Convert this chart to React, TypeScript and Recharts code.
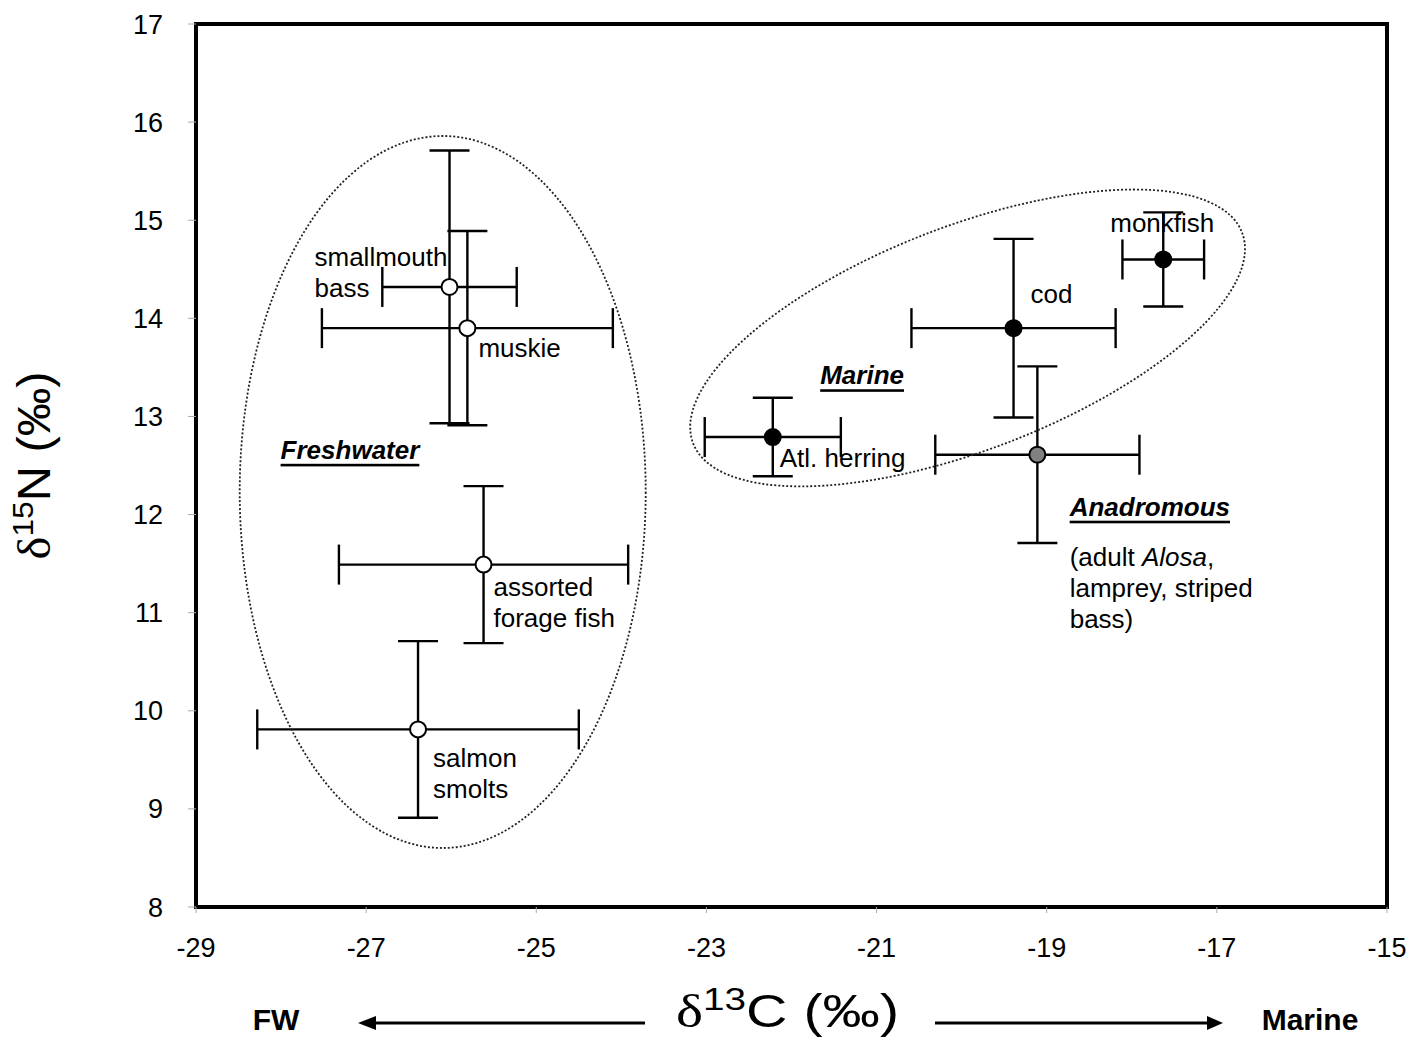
import React from "react";
import {
    ScatterChart,
    Scatter,
    XAxis,
    YAxis,
    ErrorBar,
    ReferenceArea,
    ReferenceDot,
    Label,
} from "recharts";

// freshwater fish (open symbols)
const freshNames = ["smallmouth bass", "muskie", "assorted forage fish", "salmon smolts"];
const freshC = [-26.02, -25.81, -25.62, -26.39];
const freshN = [14.32, 13.9, 11.49, 9.81];
const freshSdC = [0.79, 1.71, 1.7, 1.89];
const freshSdN = [1.39, 0.99, 0.8, 0.9];

// marine fish (filled symbols)
const marineNames = ["Atl. herring", "cod", "monkfish"];
const marineC = [-22.22, -19.39, -17.63];
const marineN = [12.79, 13.9, 14.6];
const marineSdC = [0.8, 1.2, 0.48];
const marineSdN = [0.4, 0.91, 0.48];

// anadromous (grey symbol)
const anadNames = ["anadromous"];
const anadC = [-19.11];
const anadN = [12.61];
const anadSdC = [1.2];
const anadSdN = [0.9];

const xTicks = [-29, -27, -25, -23, -21, -19, -17, -15];
const yTicks = [8, 9, 10, 11, 12, 13, 14, 15, 16, 17];

const FONT = "'Liberation Sans', Arial, sans-serif";
const SERIF = "'Liberation Serif', 'Times New Roman', serif";

// where each point's label sits, in pixels from the point
const pointLabels: Record<string, { lines: string[]; dx: number; dy: number }> = {
    "smallmouth bass": { lines: ["smallmouth", "bass"], dx: -135, dy: -30 },
    muskie: { lines: ["muskie"], dx: 11, dy: 20 },
    "assorted forage fish": { lines: ["assorted", "forage fish"], dx: 10, dy: 22 },
    "salmon smolts": { lines: ["salmon", "smolts"], dx: 15, dy: 29 },
    "Atl. herring": { lines: ["Atl. herring"], dx: 7, dy: 21 },
    cod: { lines: ["cod"], dx: 17, dy: -34 },
    monkfish: { lines: ["monkfish"], dx: -53, dy: -36 },
};

const toRows = (names: string[], c: number[], n: number[], sc: number[], sn: number[]) =>
    names.map((name, i) => ({ name, d13C: c[i], d15N: n[i], sdC: sc[i], sdN: sn[i] }));

const freshData = toRows(freshNames, freshC, freshN, freshSdC, freshSdN);
const marineData = toRows(marineNames, marineC, marineN, marineSdC, marineSdN);
const anadData = toRows(anadNames, anadC, anadN, anadSdC, anadSdN);

const makeMarker = (fill: string) => (props: any) => {
    const { cx, cy, payload } = props;
    const lbl = pointLabels[payload?.name];
    return (
        <g>
            <circle cx={cx} cy={cy} r={8} fill={fill} stroke="#000" strokeWidth={2} />
            {lbl &&
                lbl.lines.map((line, i) => (
                    <text
                        key={i}
                        x={cx + lbl.dx}
                        y={cy + lbl.dy + i * 31}
                        dominantBaseline="central"
                        fontSize={26}
                        fontFamily={FONT}
                        fill="#000"
                    >
                        {line}
                    </text>
                ))}
        </g>
    );
};

const ellipseShape = (rx: number, ry: number, angle: number) => (props: any) => (
    <ellipse
        cx={props.cx}
        cy={props.cy}
        rx={rx}
        ry={ry}
        transform={`rotate(${angle} ${props.cx} ${props.cy})`}
        fill="none"
        stroke="#222"
        strokeWidth={1.8}
        strokeDasharray="2 2"
    />
);

const groupLabel = (text: string, anchor: "middle" | "start", extra: React.ReactNode[] = []) =>
    (props: any) => (
        <g>
            <text
                x={props.cx}
                y={props.cy}
                textAnchor={anchor}
                dominantBaseline="central"
                fontSize={26}
                fontWeight="bold"
                fontStyle="italic"
                textDecoration="underline"
                fontFamily={FONT}
                fill="#000"
            >
                {text}
            </text>
            {extra.map((line, i) => (
                <text
                    key={i}
                    x={props.cx}
                    y={props.cy + 50 + i * 31}
                    dominantBaseline="central"
                    fontSize={26}
                    fontFamily={FONT}
                    fill="#000"
                >
                    {line}
                </text>
            ))}
        </g>
    );

const renderXTitle = (props: any) => {
    const { x, y, width } = props.viewBox;
    const cx = x + width / 2 - 4;
    const ay = y + 116;
    return (
        <g fill="#000" fontFamily={FONT}>
            <text
                x={cx}
                y={y + 120}
                textAnchor="middle"
                fontSize={46}
                textLength={223}
                lengthAdjust="spacingAndGlyphs"
            >
                <tspan fontFamily={SERIF}>δ</tspan>
                <tspan dy={-17} fontSize={31}>13</tspan>
                <tspan dy={17}>C (‰)</tspan>
            </text>
            <text x={x + 80} y={y + 123} textAnchor="middle" fontSize={30} fontWeight="bold">
                FW
            </text>
            <text x={x + width - 77} y={y + 123} textAnchor="middle" fontSize={30} fontWeight="bold">
                Marine
            </text>
            <line x1={x + 449} y1={ay} x2={x + 178} y2={ay} stroke="#000" strokeWidth={3} />
            <polygon points={`${x + 162},${ay} ${x + 180},${ay - 7} ${x + 180},${ay + 7}`} />
            <line x1={x + 739} y1={ay} x2={x + 1013} y2={ay} stroke="#000" strokeWidth={3} />
            <polygon points={`${x + 1027},${ay} ${x + 1011},${ay - 7} ${x + 1011},${ay + 7}`} />
        </g>
    );
};

const renderYTitle = (props: any) => {
    const { x, y, height } = props.viewBox;
    const cx = x + 33;
    const cy = y + height / 2;
    return (
        <text
            x={cx}
            y={cy + 17}
            transform={`rotate(-90 ${cx} ${cy})`}
            textAnchor="middle"
            fontSize={46}
            textLength={188}
            lengthAdjust="spacingAndGlyphs"
            fontFamily={FONT}
            fill="#000"
        >
            <tspan fontFamily={SERIF}>δ</tspan>
            <tspan dy={-17} fontSize={30}>15</tspan>
            <tspan dy={17}>N (‰)</tspan>
        </text>
    );
};

const tickStyle = { fontSize: 27, fill: "#000", fontFamily: FONT };

export default function App() {
    return (
        <div style={{ position: "absolute", left: 0, top: 0, width: 1412, height: 1040, background: "#fff" }}>
            <ScatterChart width={1412} height={1040} margin={{ top: 24, right: 25, bottom: 0, left: 0 }}>
                <XAxis
                    dataKey="d13C"
                    type="number"
                    domain={[-29, -15]}
                    ticks={xTicks}
                    interval={0}
                    height={133}
                    tickSize={6}
                    tickMargin={25}
                    tickLine={{ stroke: "#aaa" }}
                    axisLine={false}
                    tick={tickStyle}
                >
                    <Label content={renderXTitle} />
                </XAxis>
                <YAxis
                    dataKey="d15N"
                    type="number"
                    domain={[8, 17]}
                    ticks={yTicks}
                    interval={0}
                    width={196}
                    tickSize={8}
                    tickMargin={25}
                    tickLine={{ stroke: "#aaa" }}
                    axisLine={false}
                    tick={tickStyle}
                >
                    <Label content={renderYTitle} />
                </YAxis>
                <ReferenceArea
                    x1={-29}
                    x2={-15}
                    y1={8}
                    y2={17}
                    fill="none"
                    stroke="#000"
                    strokeWidth={4}
                    ifOverflow="visible"
                />
                <ReferenceDot x={-26.1} y={12.23} r={1} ifOverflow="visible" shape={ellipseShape(203, 356, 0)} />
                <ReferenceDot x={-19.93} y={13.8} r={1} ifOverflow="visible" shape={ellipseShape(294, 112, -21)} />
                <Scatter data={freshData} isAnimationActive={false} shape={makeMarker("#fff")}>
                    <ErrorBar dataKey="sdC" direction="x" width={20} stroke="#000" strokeWidth={2.4} />
                    <ErrorBar dataKey="sdN" direction="y" width={20} stroke="#000" strokeWidth={2.4} />
                </Scatter>
                <Scatter data={marineData} isAnimationActive={false} shape={makeMarker("#000")}>
                    <ErrorBar dataKey="sdC" direction="x" width={20} stroke="#000" strokeWidth={2.4} />
                    <ErrorBar dataKey="sdN" direction="y" width={20} stroke="#000" strokeWidth={2.4} />
                </Scatter>
                <Scatter data={anadData} isAnimationActive={false} shape={makeMarker("#808080")}>
                    <ErrorBar dataKey="sdC" direction="x" width={20} stroke="#000" strokeWidth={2.4} />
                    <ErrorBar dataKey="sdN" direction="y" width={20} stroke="#000" strokeWidth={2.4} />
                </Scatter>
                <ReferenceDot x={-27.19} y={12.66} r={1} ifOverflow="visible" shape={groupLabel("Freshwater", "middle")} />
                <ReferenceDot x={-21.17} y={13.42} r={1} ifOverflow="visible" shape={groupLabel("Marine", "middle")} />
                <ReferenceDot
                    x={-18.73}
                    y={12.08}
                    r={1}
                    ifOverflow="visible"
                    shape={groupLabel("Anadromous", "start", [
                        <tspan key="a">
                            (adult <tspan fontStyle="italic">Alosa</tspan>,
                        </tspan>,
                        "lamprey, striped",
                        "bass)",
                    ])}
                />
            </ScatterChart>
        </div>
    );
}
